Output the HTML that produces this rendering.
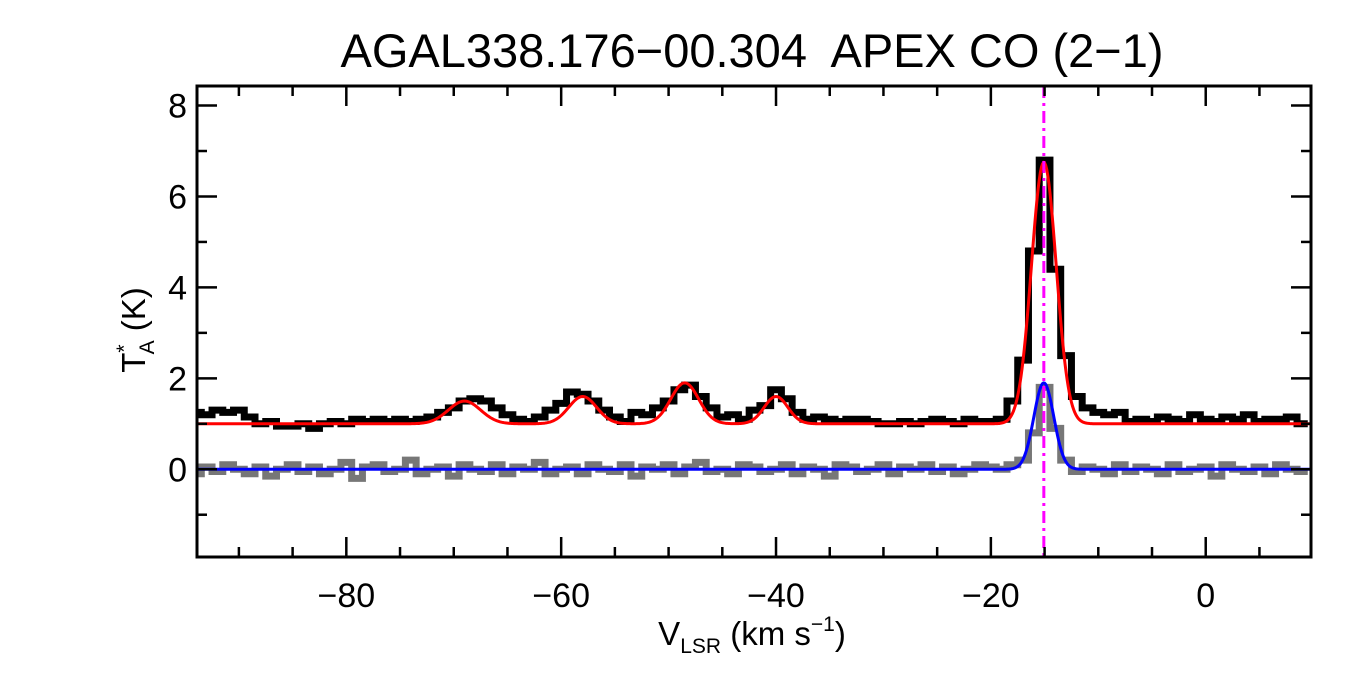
<!DOCTYPE html>
<html><head><meta charset="utf-8"><style>
body{margin:0;background:#fff}
svg text{font-family:"Liberation Sans",sans-serif;fill:#000;white-space:pre}
</style></head><body>
<svg id="c" width="1350" height="675">
<text x="752" y="67" font-size="47" text-anchor="middle">AGAL338.176−00.304  APEX CO (2−1)</text>
<g id="plot"></g>
<text x="752" y="645" font-size="33" text-anchor="middle">V<tspan font-size="21" dy="8">LSR</tspan><tspan dy="-8"> (km s</tspan><tspan font-size="21" dy="-14">−1</tspan><tspan dy="14">)</tspan></text>
<text transform="translate(145,330) rotate(-90)" font-size="33" text-anchor="middle">T<tspan font-size="21" dy="-14">*</tspan><tspan font-size="21" dx="-10" dy="23">A</tspan><tspan dy="-9"> (K)</tspan></text>
</svg>
<script>
const vStart = -94.5;
const chanWidth = 1;
const co21Spectrum = [1.25,1.2,1.3,1.25,1.3,1.15,1.0,1.05,0.95,
0.95,1.0,0.9,1.0,1.05,1.0,1.1,1.05,1.1,1.05,1.1,
1.05,1.1,1.15,1.25,1.35,1.5,1.55,1.5,1.35,1.2,1.1,1.05,1.15,1.3,1.45,
1.7,1.65,1.5,1.3,1.15,1.05,1.25,1.2,1.35,1.5,1.75,1.85,1.6,1.35,1.15,
1.2,1.1,1.3,1.4,1.75,1.55,1.25,1.1,1.15,1.1,1.05,1.1,1.1,1.05,1.0,
1.0,1.05,1.0,1.05,1.1,1.05,1.0,1.1,1.05,1.05,1.1,1.5,2.4,4.8,
6.8,4.4,2.5,1.6,1.35,1.25,1.2,1.25,
1.05,1.1,1.05,1.15,1.1,1.05,1.2,1.1,1.05,1.15,1.1,1.2,1.05,1.1,1.1,1.15,1.0];
const otherSpectrum = [-0.1,0.05,-0.05,0.1,0.0,-0.1,0.05,-0.15,0.0,
0.1,-0.05,0.05,-0.1,0.0,0.15,-0.2,0.05,0.1,-0.05,0.0,
0.2,-0.1,0.0,0.05,-0.15,0.1,0.0,-0.05,0.1,-0.1,0.05,0.0,0.15,-0.1,0.0,
0.05,-0.1,0.1,0.0,-0.05,0.1,-0.15,0.05,0.0,0.1,-0.1,0.05,0.15,-0.05,0.0,
-0.1,0.1,0.05,-0.05,0.0,0.1,-0.1,0.05,0.0,-0.15,0.1,0.05,-0.05,0.0,0.1,
-0.1,0.05,0.0,0.1,-0.05,0.05,-0.1,0.0,0.1,0.05,0.0,0.1,0.2,0.8,
1.8,0.9,0.2,-0.05,0.05,0.0,-0.1,0.1,
-0.05,0.05,0.0,-0.1,0.1,-0.05,0.0,0.05,-0.15,0.1,0.0,-0.05,0.05,-0.1,0.1,0.0,-0.05];
const redBaseline = 1.0;
const redCenters = [-69, -58, -48.5, -40, -15.07];
const redAmps = [0.5, 0.6, 0.9, 0.6, 5.75];
const redSigmas = [1.5, 1.3, 1.3, 1.1, 1.15];
const blueBaseline = 0;
const blueCenters = [-15.07];
const blueAmps = [1.9];
const blueSigmas = [0.93];
const vMarker = -15.07;
const xTicks = [-80,-60,-40,-20,0];
const yTicks = [0,2,4,6,8];

const L=197,R=1311,T=86,B=557, X0=-93.9,X1=9.8,Y0=-1.93,Y1=8.43;
const sx=v=>L+(v-X0)/(X1-X0)*(R-L), sy=t=>B-(t-Y0)/(Y1-Y0)*(B-T);
const NS='http://www.w3.org/2000/svg', g=document.getElementById('plot');
function mk(tag,a){const e=document.createElementNS(NS,tag);for(const k in a)e.setAttribute(k,a[k]);g.appendChild(e);return e;}
const clip=document.createElementNS(NS,'clipPath');clip.id='cp';
const cr=document.createElementNS(NS,'rect');cr.setAttribute('x',L);cr.setAttribute('y',T);cr.setAttribute('width',R-L);cr.setAttribute('height',B-T);clip.appendChild(cr);g.appendChild(clip);
function step(arr){let d='';arr.forEach((t,i)=>{const a=sx(vStart+i*chanWidth),b=sx(vStart+(i+1)*chanWidth),y=sy(t);d+=(i?'L':'M')+a+','+y+'L'+b+','+y;});return d;}
function fit(base,c,a,s){let d='';for(let v=X0;v<=X1;v+=0.1){let t=base;c.forEach((cc,i)=>{t+=a[i]*Math.exp(-0.5*((v-cc)/s[i])**2);});d+=(d?'L':'M')+sx(v)+','+sy(t);}return d;}
let e;
e=mk('path',{d:step(otherSpectrum),fill:'none',stroke:'#777',"stroke-width":7,"clip-path":'url(#cp)'});


e=mk('path',{d:step(co21Spectrum),fill:'none',stroke:'#000',"stroke-width":7,"clip-path":'url(#cp)'});


e=mk('path',{d:fit(redBaseline,redCenters,redAmps,redSigmas),fill:'none',stroke:'#f00',"stroke-width":3,"clip-path":'url(#cp)'});


e=mk('path',{d:fit(blueBaseline,blueCenters,blueAmps,blueSigmas),fill:'none',stroke:'#00f',"stroke-width":3,"clip-path":'url(#cp)'});


e=mk('line',{x1:sx(vMarker),x2:sx(vMarker),y1:T,y2:B,stroke:'#f0f',"stroke-width":3,"stroke-dasharray":'12,5,3,5'});


e=mk('rect',{x:L,y:T,width:R-L,height:B-T,fill:'none',stroke:'#000',"stroke-width":3});


for(let v=-90;v<=X1;v+=5){const maj=v%20===0,len=maj?20:10,x=sx(v);
 e=mk('line',{x1:x,x2:x,y1:B,y2:B-len,stroke:'#000',"stroke-width":2.5});
 
 
 e=mk('line',{x1:x,x2:x,y1:T,y2:T+len,stroke:'#000',"stroke-width":2.5});
 
 }
for(let t=-1;t<=8;t+=1){const maj=t%2===0,len=maj?20:10,y=sy(t);
 e=mk('line',{x1:L,x2:L+len,y1:y,y2:y,stroke:'#000',"stroke-width":2.5});
 
 
 e=mk('line',{x1:R,x2:R-len,y1:y,y2:y,stroke:'#000',"stroke-width":2.5});
 
 }
xTicks.forEach(v=>{e=mk('text',{x:sx(v),y:607,"font-size":34,"text-anchor":'middle'});e.textContent=(v<0?'−'+(-v):v);
 
 });
yTicks.forEach(t=>{e=mk('text',{x:187,y:sy(t)+12,"font-size":34,"text-anchor":'end'});e.textContent=t;
 
 });
</script>
</body></html>
